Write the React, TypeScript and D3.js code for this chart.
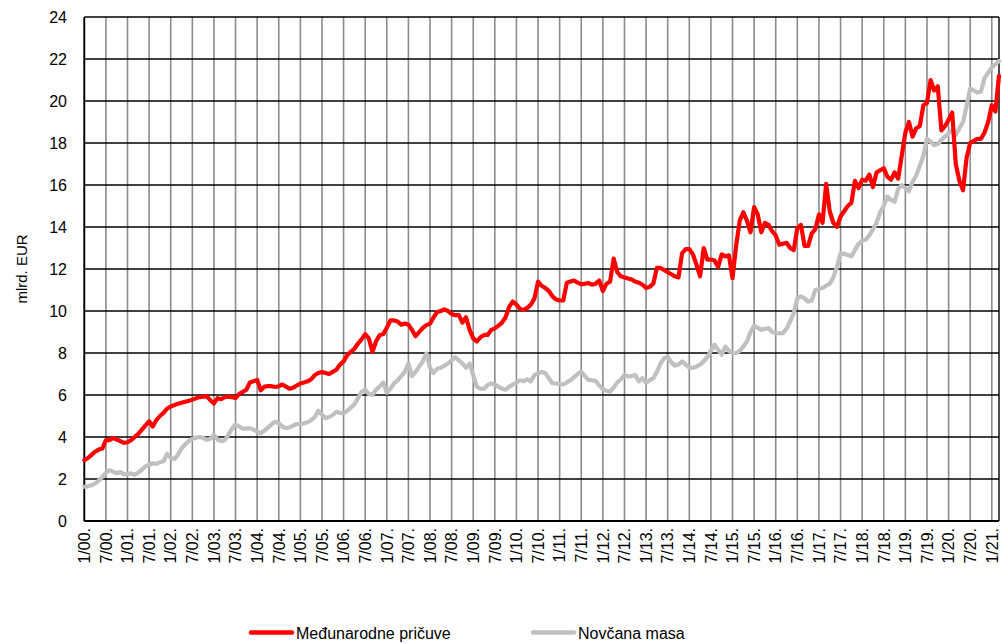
import React from "react";
import * as d3 from "d3";

// Monthly data, 1/2000 .. 3/2021 (255 months), mlrd. EUR
const reserves: number[] = [
  // 2000
  2.9, 3.0, 3.15, 3.3, 3.4, 3.45, 3.85, 3.85, 3.95, 3.88, 3.8, 3.72,
  // 2001
  3.75, 3.85, 4.0, 4.15, 4.35, 4.55, 4.75, 4.5, 4.8, 5.0, 5.15, 5.35,
  // 2002
  5.45, 5.52, 5.58, 5.63, 5.68, 5.72, 5.78, 5.84, 5.9, 5.92, 5.95, 5.75,
  // 2003
  5.6, 5.85, 5.8, 5.9, 5.92, 5.9, 5.85, 6.05, 6.15, 6.25, 6.6, 6.65,
  // 2004
  6.72, 6.22, 6.4, 6.42, 6.42, 6.38, 6.42, 6.5, 6.4, 6.3, 6.35, 6.45,
  // 2005
  6.55, 6.6, 6.65, 6.75, 6.95, 7.05, 7.1, 7.05, 7.0, 7.1, 7.2, 7.45,
  // 2006
  7.6, 7.9, 8.05, 8.2, 8.45, 8.65, 8.9, 8.7, 8.05, 8.55, 8.85, 8.9,
  // 2007
  9.2, 9.55, 9.55, 9.5, 9.35, 9.4, 9.35, 9.1, 8.8, 9.0, 9.2, 9.33,
  // 2008
  9.4, 9.7, 9.95, 10.0, 10.08, 10.0, 9.86, 9.8, 9.8, 9.45, 9.7, 9.1,
  // 2009
  8.7, 8.55, 8.75, 8.86, 8.86, 9.1, 9.17, 9.3, 9.45, 9.7, 10.2, 10.45,
  // 2010
  10.3, 10.1, 10.05, 10.15, 10.3, 10.6, 11.4, 11.2, 11.1, 10.95, 10.7, 10.55,
  // 2011
  10.5, 10.5, 11.35, 11.4, 11.45, 11.35, 11.27, 11.3, 11.33, 11.25, 11.3, 11.45,
  // 2012
  10.95, 11.3, 11.4, 12.5, 11.85, 11.65, 11.6, 11.55, 11.5, 11.4, 11.35, 11.25,
  // 2013
  11.1, 11.15, 11.3, 12.05, 12.05, 11.95, 11.85, 11.75, 11.65, 11.6, 12.75, 12.95,
  // 2014
  12.95, 12.7, 12.2, 11.65, 13.0, 12.45, 12.45, 12.4, 12.1, 12.7, 12.6, 12.65,
  // 2015
  11.56, 13.1, 14.3, 14.7, 14.3, 13.75, 14.95, 14.6, 13.75, 14.2, 14.1, 13.8,
  // 2016
  13.6, 13.15, 13.2, 13.25, 13.0, 12.9, 13.95, 14.1, 13.1, 13.1, 13.7, 13.9,
  // 2017
  14.6, 14.2, 16.05, 14.75, 14.2, 14.0, 14.5, 14.75, 15.0, 15.15, 16.2, 15.85,
  // 2018
  16.25, 16.2, 16.5, 15.9, 16.6, 16.7, 16.8, 16.4, 16.25, 16.6, 16.3, 17.4,
  // 2019
  18.5, 19.0, 18.3, 18.7, 18.8, 19.8, 19.9, 21.0, 20.5, 20.7, 18.6, 18.8,
  // 2020
  19.1, 19.45, 17.0, 16.2, 15.75, 17.3, 18.0, 18.1, 18.2, 18.2, 18.5, 19.0,
  // 2021
  19.8, 19.5, 21.2,
];

const moneySupply: number[] = [
  // 2000
  1.63, 1.65, 1.7, 1.78, 1.92, 2.1, 2.3, 2.42, 2.35, 2.27, 2.33, 2.22,
  // 2001
  2.25, 2.27, 2.2, 2.3, 2.45, 2.6, 2.68, 2.75, 2.72, 2.8, 2.85, 3.2,
  // 2002
  3.0, 2.95, 3.15, 3.45, 3.65, 3.8, 3.92, 3.97, 4.0, 3.95, 3.87, 3.92,
  // 2003
  4.1, 3.88, 3.8, 3.85, 4.1, 4.4, 4.6, 4.5, 4.4, 4.4, 4.42, 4.35,
  // 2004
  4.25, 4.17, 4.3, 4.45, 4.6, 4.73, 4.65, 4.5, 4.42, 4.45, 4.55, 4.62,
  // 2005
  4.62, 4.65, 4.7, 4.8, 4.95, 5.25, 5.05, 4.9, 4.95, 5.05, 5.2, 5.15,
  // 2006
  5.13, 5.25, 5.4, 5.55, 5.85, 6.15, 6.25, 6.05, 6.0, 6.25, 6.4, 6.6,
  // 2007
  6.1, 6.3, 6.55, 6.7, 6.9, 7.1, 7.5, 6.9, 7.1, 7.35, 7.6, 7.98,
  // 2008
  7.3, 7.05, 7.25, 7.3, 7.4, 7.5, 7.65, 7.8, 7.65, 7.5, 7.3, 7.5,
  // 2009
  6.95, 6.4, 6.3, 6.3, 6.48, 6.55, 6.5, 6.4, 6.3, 6.25, 6.4, 6.5,
  // 2010
  6.6, 6.7, 6.65, 6.75, 6.65, 6.95, 7.05, 7.1, 7.05, 6.8, 6.56, 6.55,
  // 2011
  6.52, 6.5, 6.6, 6.7, 6.85, 7.0, 7.1, 6.9, 6.72, 6.7, 6.68, 6.45,
  // 2012
  6.28, 6.2, 6.16, 6.35, 6.6, 6.75, 6.95, 6.88, 6.9, 6.95, 6.65, 6.8,
  // 2013
  6.58, 6.7, 6.8, 7.1, 7.5, 7.75, 7.82, 7.55, 7.4, 7.45, 7.6, 7.45,
  // 2014
  7.3, 7.3, 7.35, 7.45, 7.6, 7.8, 8.1, 8.4, 8.15, 7.92, 8.3, 8.1,
  // 2015
  8.0, 8.0, 8.1, 8.3, 8.55, 9.0, 9.3, 9.2, 9.1, 9.15, 9.18, 9.0,
  // 2016
  8.94, 8.94, 8.95, 9.15, 9.5, 9.9, 10.6, 10.7, 10.6, 10.45, 10.5, 11.0,
  // 2017
  11.05, 11.1, 11.2, 11.3, 11.6, 12.1, 12.75, 12.72, 12.67, 12.6, 12.9, 13.2,
  // 2018
  13.35, 13.4, 13.6, 13.9, 14.2, 14.7, 15.0, 15.45, 15.3, 15.2, 15.8, 16.0,
  // 2019
  15.85, 15.7, 16.15, 16.45, 16.9, 17.4, 18.2, 18.05, 17.9, 17.95, 18.15, 18.3,
  // 2020
  18.45, 18.62, 18.38, 18.7, 19.0, 19.75, 20.6, 20.5, 20.4, 20.45, 21.1, 21.35,
  // 2021
  21.6, 21.75, 21.9,
];

const yTicks: number[] = [0, 2, 4, 6, 8, 10, 12, 14, 16, 18, 20, 22, 24];

// month labels every 6 months
const xTickLabels: string[] = (() => {
  const out: string[] = [];
  for (let y = 0; y <= 21; y++) {
    const yy = String(y).padStart(2, "0");
    out.push(`1/${yy}.`);
    if (y < 21) out.push(`7/${yy}.`);
  }
  return out;
})();

const seriesNames = ["Međunarodne pričuve", "Novčana masa"];
const seriesColors = ["#FF0000", "#C0C0C0"];

const FONT = "'Liberation Sans', Arial, sans-serif";

export default function App() {
  const W = 1002;
  const H = 644;
  const left = 84.3;
  const right = 999;
  const top = 17;
  const bottom = 521;
  const n = reserves.length;

  const x = d3.scaleLinear().domain([0, n - 1]).range([left, right]);
  const y = d3.scaleLinear().domain([0, 24]).range([bottom, top]);

  const line = d3
    .line<number>()
    .x((_, i) => x(i))
    .y((d) => y(d))
    .curve(d3.curveLinear);

  const xTickIdx = xTickLabels.map((_, i) => i * 6);

  return (
    <svg
      width={W}
      height={H}
      style={{ position: "absolute", left: 0, top: 0, background: "#fff" }}
      fontFamily={FONT}
    >
      {/* vertical gridlines */}
      {xTickIdx.map((m) => (
        <line
          key={"vg" + m}
          x1={x(m)}
          x2={x(m)}
          y1={top}
          y2={bottom}
          stroke="#8C8C8C"
          strokeWidth={1.6}
        />
      ))}
      {/* horizontal gridlines */}
      {yTicks.map((t) => (
        <line
          key={"hg" + t}
          x1={left}
          x2={right}
          y1={y(t)}
          y2={y(t)}
          stroke="#000"
          strokeWidth={1.4}
        />
      ))}
      {/* right border */}
      <line x1={right} x2={right} y1={top} y2={bottom} stroke="#000" strokeWidth={1.4} />
      {/* axes */}
      <line x1={left} x2={left} y1={top} y2={bottom} stroke="#000" strokeWidth={1.8} />
      <line x1={left} x2={right} y1={bottom} y2={bottom} stroke="#000" strokeWidth={1.8} />

      {/* series */}
      <path
        d={line(moneySupply) || ""}
        fill="none"
        stroke={seriesColors[1]}
        strokeWidth={4.2}
        strokeLinejoin="round"
        strokeLinecap="round"
      />
      <path
        d={line(reserves) || ""}
        fill="none"
        stroke={seriesColors[0]}
        strokeWidth={4.2}
        strokeLinejoin="round"
        strokeLinecap="round"
      />

      {/* y tick labels */}
      {yTicks.map((t) => (
        <text
          key={"yl" + t}
          x={67}
          y={y(t)}
          dy="0.36em"
          textAnchor="end"
          fontSize={16}
          fill="#000"
        >
          {t}
        </text>
      ))}
      {/* y title */}
      <text
        transform={`translate(27,${(top + bottom) / 2}) rotate(-90)`}
        textAnchor="middle"
        fontSize={15}
        fill="#000"
      >
        mlrd. EUR
      </text>

      {/* x tick labels */}
      {xTickIdx.map((m, i) => (
        <text
          key={"xl" + m}
          transform={`translate(${x(m)},${bottom + 7}) rotate(-90)`}
          textAnchor="end"
          dy="0.36em"
          fontSize={16}
          fill="#000"
        >
          {xTickLabels[i]}
        </text>
      ))}

      {/* legend */}
      <line x1={251} x2={292} y1={632.5} y2={632.5} stroke={seriesColors[0]} strokeWidth={4.5} strokeLinecap="round" />
      <text x={296} y={639} fontSize={16} fill="#000">
        {seriesNames[0]}
      </text>
      <line x1={533} x2={574} y1={632.5} y2={632.5} stroke={seriesColors[1]} strokeWidth={4.5} strokeLinecap="round" />
      <text x={578} y={639} fontSize={16} fill="#000">
        {seriesNames[1]}
      </text>
    </svg>
  );
}
